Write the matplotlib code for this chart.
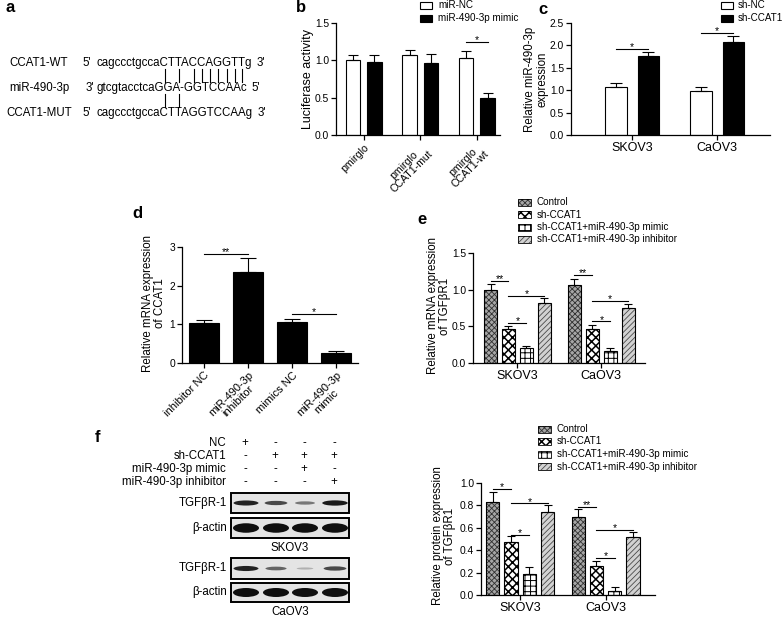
import numpy as np
import matplotlib
matplotlib.use('Agg')
import matplotlib.pyplot as plt
from matplotlib.patches import Rectangle, Ellipse
from matplotlib.font_manager import FontProperties

plt.rcParams['font.family'] = ['Liberation Sans', 'DejaVu Sans']
plt.rcParams['hatch.linewidth'] = 0.6
FS = 8.3      # labels / panel a / blot
TFS = 7.4     # numeric tick labels
LFS = 7.1     # legends

# ---------------- data ----------------
# panel a
seq_names = ['CCAT1-WT', 'miR-490-3p', 'CCAT1-MUT']
seq_left_end = ["5'", "3'", "5'"]
seq_right_end = ["3'", "5'", "3'"]
seq_text = ['cagccctgccaCTTACCAGGTTg', 'gtcgtacctcaGGA-GGTCCAAc', 'cagccctgccaCTTAGGTCCAAg']
wt_pair_idx = [11, 13, 15, 16, 17, 18, 19, 20, 21]
mut_pair_idx = [11, 13]

# panel b
b_categories = ['pmirglo', 'pmirglo\nCCAT1-mut', 'pmirglo\nCCAT1-wt']
b_series = ['miR-NC', 'miR-490-3p mimic']
b_nc = [1.01, 1.07, 1.03]
b_nc_err = [0.06, 0.07, 0.09]
b_mimic = [0.98, 0.97, 0.49]
b_mimic_err = [0.09, 0.11, 0.07]
b_sig = [(2, 1.25, '*')]

# panel c
c_categories = ['SKOV3', 'CaOV3']
c_series = ['sh-NC', 'sh-CCAT1']
c_nc = [1.07, 0.98]
c_nc_err = [0.08, 0.10]
c_sh = [1.76, 2.08]
c_sh_err = [0.09, 0.12]
c_sig = [(0, 1.92, '*'), (1, 2.28, '*')]

# panel d
d_categories = ['inhibitor NC', 'miR-490-3p\ninhibitor', 'mimics NC', 'miR-490-3p\nmimic']
d_values = [1.03, 2.35, 1.07, 0.27]
d_err = [0.07, 0.36, 0.07, 0.05]
d_sig = [(0, 1, 2.82, '**'), (2, 3, 1.27, '*')]

# panels e, f
ef_categories = ['SKOV3', 'CaOV3']
ef_series = ['Control', 'sh-CCAT1', 'sh-CCAT1+miR-490-3p mimic', 'sh-CCAT1+miR-490-3p inhibitor']
e_values = [[0.99, 1.07], [0.46, 0.47], [0.20, 0.16], [0.82, 0.75]]
e_err = [[0.09, 0.08], [0.04, 0.05], [0.03, 0.04], [0.06, 0.06]]
e_sig = [(0, 0, 1, 1.12, '**'), (0, 1, 3, 0.92, '*'), (0, 1, 2, 0.55, '*'),
         (1, 0, 1, 1.20, '**'), (1, 1, 3, 0.85, '*'), (1, 1, 2, 0.57, '*')]
f_values = [[0.83, 0.70], [0.47, 0.26], [0.19, 0.04], [0.74, 0.52]]
f_err = [[0.09, 0.07], [0.06, 0.04], [0.06, 0.03], [0.06, 0.04]]
f_sig = [(0, 0, 1, 0.95, '*'), (0, 1, 3, 0.82, '*'), (0, 1, 2, 0.54, '*'),
         (1, 0, 1, 0.79, '**'), (1, 1, 3, 0.58, '*'), (1, 1, 2, 0.33, '*')]

# panel f western blot
blot_conditions = ['NC', 'sh-CCAT1', 'miR-490-3p mimic', 'miR-490-3p inhibitor']
blot_signs = [['+', '-', '-', '-'],
              ['-', '+', '+', '+'],
              ['-', '-', '+', '-'],
              ['-', '-', '-', '+']]
skov3_tgf = [0.9, 0.7, 0.45, 0.95]
skov3_actin = [1.0, 1.0, 1.0, 1.0]
caov3_tgf = [0.9, 0.55, 0.15, 0.7]
caov3_actin = [1.0, 1.0, 1.0, 1.0]

# ---------------- figure ----------------
W, H = 784, 618
fig = plt.figure(figsize=(W / 100, H / 100), dpi=100)
canvas = fig.add_axes([0, 0, 1, 1], zorder=0)
canvas.set_xlim(0, W)
canvas.set_ylim(H, 0)
canvas.axis('off')


def add_ax(l, t, r, b):
    ax = fig.add_axes([l / W, 1 - b / H, (r - l) / W, (b - t) / H], zorder=1)
    ax.patch.set_alpha(0)
    for s in ['top', 'right']:
        ax.spines[s].set_visible(False)
    for s in ['left', 'bottom']:
        ax.spines[s].set_linewidth(0.9)
    ax.tick_params(direction='out', length=3.5, width=0.9, labelsize=TFS, pad=1.5)
    return ax


def errbars(ax, x, y, e, cap):
    ax.errorbar(x, y, yerr=[np.zeros(len(e)), e], fmt='none', ecolor='black',
                elinewidth=0.8, capsize=cap, capthick=0.8, zorder=4)


def sig(ax, x1, x2, y, txt):
    ax.plot([x1, x2], [y, y], color='black', lw=0.8, clip_on=False, zorder=5)
    ax.annotate(txt, ((x1 + x2) / 2, y), xytext=(0, -2.5), textcoords='offset points',
                ha='center', va='bottom', fontsize=7.5)


def ylab(x, y, s, fs=FS):
    canvas.text(x, y, s, rotation=90, ha='center', va='center', fontsize=fs,
                multialignment='center', linespacing=1.05)


def plabel(x, y, s):
    canvas.text(x, y, s, ha='left', va='center', fontsize=12, fontweight='bold')


# ---------------- panel a ----------------
plabel(6, 8, 'a')
fp = FontProperties(family=['Liberation Sans'], size=FS)
renderer = fig.canvas.get_renderer()


def tw(s):
    if s == '':
        return 0.0
    return renderer.get_text_width_height_descent(s, fp, ismath=False)[0]


rows_y = [63, 88, 113]
end_x = [82, 86, 82]
seq_x0 = 97
for name, le, re_, seq, yy, ex in zip(seq_names, seq_left_end, seq_right_end, seq_text, rows_y, end_x):
    canvas.text(39, yy, name, ha='center', va='center', fontsize=FS)
    canvas.text(ex, yy, le, ha='left', va='center', fontsize=FS)
    canvas.text(seq_x0, yy, seq, ha='left', va='center', fontsize=FS)
    canvas.text(seq_x0 + tw(seq) + 4, yy, re_, ha='left', va='center', fontsize=FS)


def char_center(seq, i):
    return seq_x0 + tw(seq[:i]) + tw(seq[i]) / 2


for i in wt_pair_idx:
    xc = char_center(seq_text[0], i)
    canvas.plot([xc, xc], [rows_y[0] + 6, rows_y[1] - 6], color='black', lw=0.8)
for i in mut_pair_idx:
    xc = char_center(seq_text[2], i)
    canvas.plot([xc, xc], [rows_y[1] + 6, rows_y[2] - 6], color='black', lw=0.8)

# ---------------- panel b ----------------
plabel(296, 8, 'b')
axb = add_ax(336, 23, 500, 135)
xb = np.arange(len(b_categories))
bw, boff = 0.26, 0.19
axb.bar(xb - boff, b_nc, bw, color='white', edgecolor='black', linewidth=0.8, zorder=2)
axb.bar(xb + boff, b_mimic, bw, color='black', edgecolor='black', linewidth=0.8, zorder=2)
errbars(axb, xb - boff, b_nc, b_nc_err, 3.6)
errbars(axb, xb + boff, b_mimic, b_mimic_err, 3.6)
for g, yv, t in b_sig:
    sig(axb, g - boff, g + boff, yv, t)
axb.set_ylim(0, 1.5)
axb.set_yticks([0, 0.5, 1.0, 1.5])
axb.set_yticklabels(['0.0', '0.5', '1.0', '1.5'])
axb.set_xlim(-0.49, 2.41)
axb.set_xticks(xb)
axb.set_xticklabels(b_categories, rotation=45, ha='right', rotation_mode='anchor',
                    multialignment='center', linespacing=1.0, fontsize=7.6)
ylab(308, 79, 'Luciferase activity', fs=9.0)
for k, (lab, fc) in enumerate(zip(b_series, ['white', 'black'])):
    yy = 5 + 13 * k
    canvas.add_patch(Rectangle((420, yy - 3.5), 12, 7, facecolor=fc, edgecolor='black', linewidth=0.8))
    canvas.text(438, yy, lab, ha='left', va='center', fontsize=LFS)

# ---------------- panel c ----------------
plabel(538, 9, 'c')
axc = add_ax(571, 23, 770, 135)
xc_ = np.arange(len(c_categories))
cw, coff = 0.25, 0.19
axc.bar(xc_ - coff, c_nc, cw, color='white', edgecolor='black', linewidth=0.8, zorder=2)
axc.bar(xc_ + coff, c_sh, cw, color='black', edgecolor='black', linewidth=0.8, zorder=2)
errbars(axc, xc_ - coff, c_nc, c_nc_err, 4)
errbars(axc, xc_ + coff, c_sh, c_sh_err, 4)
for g, yv, t in c_sig:
    sig(axc, g - coff, g + coff, yv, t)
axc.set_ylim(0, 2.5)
axc.set_yticks(np.arange(0, 2.51, 0.5))
axc.set_yticklabels(['%.1f' % v for v in np.arange(0, 2.51, 0.5)])
axc.set_xlim(-0.72, 1.62)
axc.set_xticks(xc_)
axc.set_xticklabels(c_categories, fontsize=9)
ylab(536, 79, 'Relative miR-490-3p\nexpression')
for k, (lab, fc) in enumerate(zip(c_series, ['white', 'black'])):
    yy = 5 + 13 * k
    canvas.add_patch(Rectangle((721, yy - 3.5), 12, 7, facecolor=fc, edgecolor='black', linewidth=0.8))
    canvas.text(738, yy, lab, ha='left', va='center', fontsize=LFS)

# ---------------- panel d ----------------
plabel(132, 213, 'd')
axd = add_ax(182, 247, 358, 363)
xd = np.arange(len(d_categories))
axd.bar(xd, d_values, 0.66, color='black', edgecolor='black', linewidth=0.8, zorder=2)
errbars(axd, xd, d_values, d_err, 5.5)
for i, j, yv, t in d_sig:
    sig(axd, i, j, yv, t)
axd.set_ylim(0, 3)
axd.set_yticks([0, 1, 2, 3])
axd.set_xlim(-0.5, 3.5)
axd.set_xticks(xd)
axd.set_xticklabels(d_categories, rotation=45, ha='right', rotation_mode='anchor',
                    multialignment='center', linespacing=1.0, fontsize=8)
ylab(154, 303, 'Relative mRNA expression\nof CCAT1')

# ---------------- panels e, f ----------------
styles = [dict(face='#a6a6a6', hatch='xxxxxx', hc='#303030', hlw=0.6),
          dict(face='white', hatch='xxxx', hc='black', hlw=1.1),
          dict(face='white', hatch='+++', hc='black', hlw=0.7),
          dict(face='#d2d2d2', hatch='//////', hc='#4a4a4a', hlw=0.6)]
ef_off = [-0.321, -0.107, 0.107, 0.321]
ef_w = 0.155


def grouped(ax, values, errs, sigs):
    xg = np.arange(len(ef_categories))
    for k, st in enumerate(styles):
        xs = xg + ef_off[k]
        with plt.rc_context({'hatch.linewidth': st['hlw']}):
            ax.bar(xs, values[k], ef_w, color=st['face'], edgecolor=st['hc'], hatch=st['hatch'],
                   linewidth=0, zorder=2)
        ax.bar(xs, values[k], ef_w, fill=False, edgecolor='black', linewidth=0.8, zorder=3)
        errbars(ax, xs, values[k], errs[k], 2.6)
    for g, i, j, yv, t in sigs:
        sig(ax, g + ef_off[i], g + ef_off[j], yv, t)
    ax.set_xticks(xg)
    ax.set_xticklabels(ef_categories, fontsize=9)


def ef_legend(x, ys):
    for yy, lab, st in zip(ys, ef_series, styles):
        with plt.rc_context({'hatch.linewidth': st['hlw']}):
            canvas.add_patch(Rectangle((x, yy - 3.5), 13, 7, facecolor=st['face'], edgecolor=st['hc'],
                                       hatch=st['hatch'], linewidth=0))
        canvas.add_patch(Rectangle((x, yy - 3.5), 13, 7, fill=False, edgecolor='black', linewidth=0.6))
        canvas.text(x + 19, yy, lab, ha='left', va='center', fontsize=LFS)


plabel(417, 220, 'e')
axe = add_ax(473, 253, 645, 363)
grouped(axe, e_values, e_err, e_sig)
axe.set_ylim(0, 1.5)
axe.set_yticks([0, 0.5, 1.0, 1.5])
axe.set_yticklabels(['0.0', '0.5', '1.0', '1.5'])
axe.set_xlim(-0.53, 1.52)
ylab(439, 306, 'Relative mRNA expression\nof TGF\u03b2R1')
ef_legend(518, [202, 214.5, 227, 239.5])

axf = add_ax(481, 483, 655, 595)
grouped(axf, f_values, f_err, f_sig)
axf.set_ylim(0, 1.0)
axf.set_yticks(np.arange(0, 1.01, 0.2))
axf.set_yticklabels(['%.1f' % v for v in np.arange(0, 1.01, 0.2)])
axf.set_xlim(-0.46, 1.58)
ylab(444, 536, 'Relative protein expression\nof TGF\u03b2R1')
ef_legend(538, [429, 441.5, 454, 466.5])

# ---------------- panel f blot ----------------
plabel(95, 437, 'f')
lane_x = [245, 275, 304, 334]
cond_y = [443, 456, 469, 482]
for lab, signs, yy in zip(blot_conditions, blot_signs, cond_y):
    canvas.text(226, yy, lab, ha='right', va='center', fontsize=FS)
    for lx, s in zip(lane_x, signs):
        canvas.text(lx, yy, s, ha='center', va='center', fontsize=FS)


def blot_strip(ytop, ybot, intens, label, hmin, hmax):
    canvas.add_patch(Rectangle((231, ytop), 118, ybot - ytop, facecolor='#e4e4e4',
                               edgecolor='black', linewidth=1.4))
    yc = (ytop + ybot) / 2
    canvas.text(227, yc, label, ha='right', va='center', fontsize=FS)
    for lx, I in zip(lane_x, intens):
        hh = hmin + (hmax - hmin) * I
        ww = 15 + 11 * I
        g = 0.8 - 0.74 * I
        canvas.add_patch(Ellipse((lx + 1, yc), ww, hh, facecolor=(g, g, g), edgecolor='none'))


blot_strip(493, 513, skov3_tgf, 'TGF\u03b2R-1', 1.5, 5.5)
blot_strip(518, 538, skov3_actin, '\u03b2-actin', 3, 9.5)
canvas.text(290, 548, 'SKOV3', ha='center', va='center', fontsize=FS)
blot_strip(558, 579, caov3_tgf, 'TGF\u03b2R-1', 1.5, 5.5)
blot_strip(583, 602, caov3_actin, '\u03b2-actin', 3, 9)
canvas.text(290, 612, 'CaOV3', ha='center', va='center', fontsize=FS)

fig.savefig('out.png', dpi=100)
